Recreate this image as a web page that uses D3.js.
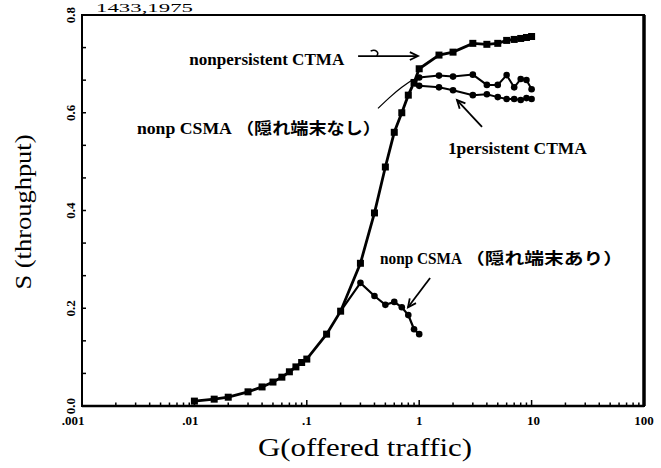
<!DOCTYPE html>
<html><head><meta charset="utf-8">
<script src="https://cdn.jsdelivr.net/npm/d3@7"></script>
<style>body{margin:0;background:#fff}</style>
</head><body><svg id="c" width="661" height="468"></svg>
<script>
// ---- data ----
const gMain = [0.01,0.015,0.02,0.03,0.04,0.05,0.06,0.07,0.08,0.09,0.1,0.15,0.2,0.3,0.4,0.5,0.6,0.7,0.8,0.9,1.0];
const sMain = [0.01,0.014,0.018,0.029,0.039,0.049,0.059,0.07,0.08,0.089,0.096,0.147,0.194,0.292,0.395,0.489,0.56,0.60,0.636,0.662,0.69];
const gNonpCTMA = [1.0,1.5,2,3,4,5,6,7,8,9,10];
const sNonpCTMA = [0.69,0.718,0.724,0.742,0.740,0.742,0.748,0.750,0.752,0.754,0.756];
const gUpper = [1.0,1.5,2,3,4,5,6,7,8,9,10];
const sUpper = [0.672,0.676,0.674,0.678,0.657,0.657,0.677,0.652,0.669,0.667,0.648];
const g1pCTMA = [1.0,1.5,2,3,4,5,6,7,8,9,10];
const s1pCTMA = [0.655,0.652,0.646,0.636,0.638,0.632,0.628,0.628,0.626,0.630,0.628];
const gHidden = [0.2,0.3,0.4,0.5,0.6,0.7,0.8,0.9,1.0];
const sHidden = [0.194,0.252,0.225,0.207,0.213,0.202,0.186,0.157,0.147];
const gArc = [0.43,0.55,0.7,0.88];
const sArc = [0.609,0.632,0.652,0.668];
const xTickValues = [0.001,0.01,0.1,1,10,100];
const xTickLabels = [".001",".01",".1","1","10","100"];
const yTickValues = [0,0.2,0.4,0.6,0.8];
const yTickLabels = ["0.0","0.2","0.4","0.6","0.8"];

const svg = d3.select("#c");
const x = d3.scaleLog().domain([0.001,100]).range([82,644]);
const y = d3.scaleLinear().domain([0,0.8]).range([406,15]);
const serif = "'Liberation Serif','Times New Roman',serif";
const cjk = "'Noto Sans CJK JP',sans-serif";

// top partial text
svg.append("text").attr("x",96).attr("y",12).attr("font-family",serif).attr("font-size",12)
  .attr("textLength",97).attr("lengthAdjust","spacingAndGlyphs").text("1433,1975");

// ticks
const minorX = x.ticks().filter(v => !xTickValues.some(t => Math.abs(t - v) < 1e-9));
svg.append("g").selectAll("line").data(minorX).join("line")
  .attr("x1",d=>x(d)).attr("x2",d=>x(d)).attr("y1",406).attr("y2",402.5)
  .attr("stroke","#000").attr("stroke-width",1.5);
svg.append("g").selectAll("line").data(xTickValues).join("line")
  .attr("x1",d=>x(d)).attr("x2",d=>x(d)).attr("y1",406).attr("y2",400)
  .attr("stroke","#000").attr("stroke-width",1.5);
const minorY = d3.range(0,0.8001,0.2/3);
svg.append("g").selectAll("line").data(minorY).join("line")
  .attr("x1",82).attr("x2",86).attr("y1",d=>y(d)).attr("y2",d=>y(d))
  .attr("stroke","#000").attr("stroke-width",1.5);

// frame
svg.append("rect").attr("x",x(0.001)).attr("y",y(0.8)).attr("width",x(100)-x(0.001)).attr("height",y(0)-y(0.8))
  .attr("fill","none").attr("stroke","#000").attr("stroke-width",2);
svg.append("line").attr("x1",x(100)).attr("x2",x(100)).attr("y1",y(0.8)).attr("y2",y(0)).attr("stroke","#000").attr("stroke-width",3.5);
svg.append("line").attr("x1",x(0.001)).attr("x2",x(100)).attr("y1",y(0)).attr("y2",y(0)).attr("stroke","#000").attr("stroke-width",2.5);

// tick labels
const xOff = [-9,-4,0,0,2,0];
svg.append("g").selectAll("text").data(xTickValues).join("text")
  .attr("x",(d,i)=>x(d)+xOff[i]).attr("y",425).attr("text-anchor","middle")
  .attr("font-family",serif).attr("font-weight","bold").attr("font-size",13)
  .text((d,i)=>xTickLabels[i]);
svg.append("g").selectAll("text").data(yTickValues).join("text")
  .attr("transform",d=>`translate(75,${y(d)}) rotate(-90)`).attr("text-anchor","middle")
  .attr("font-family",serif).attr("font-weight","bold").attr("font-size",13)
  .text((d,i)=>yTickLabels[i]);

// axis titles
svg.append("text").attr("x",365).attr("y",456).attr("text-anchor","middle")
  .attr("font-family",serif).attr("font-size",26).attr("textLength",214).attr("lengthAdjust","spacingAndGlyphs")
  .text("G(offered traffic)");
svg.append("text").attr("transform","translate(31,212) rotate(-90)").attr("text-anchor","middle")
  .attr("font-family",serif).attr("font-size",24).attr("textLength",155).attr("lengthAdjust","spacingAndGlyphs")
  .text("S (throughput)");

// series
const line = d3.line().x(d=>x(d[0])).y(d=>y(d[1]));
const zip = (a,b)=>a.map((v,i)=>[v,b[i]]);
const main = zip(gMain,sMain).concat(zip(gNonpCTMA,sNonpCTMA).slice(1));
const upper = [[0.9,0.662]].concat(zip(gUpper,sUpper));
const lower = [[0.9,0.655]].concat(zip(g1pCTMA,s1pCTMA));
const hidden = zip(gHidden,sHidden);
const arc = zip(gArc,sArc);

svg.append("path").attr("d",d3.line().x(d=>x(d[0])).y(d=>y(d[1])).curve(d3.curveNatural)(arc))
  .attr("fill","none").attr("stroke","#000").attr("stroke-width",1.3);
[[upper,2],[lower,2],[hidden,2.2],[main,2.8]].forEach(([d,w])=>{
  svg.append("path").attr("d",line(d)).attr("fill","none").attr("stroke","#000").attr("stroke-width",w);
});
svg.append("g").selectAll("rect").data(main).join("rect")
  .attr("x",d=>x(d[0])-3.5).attr("y",d=>y(d[1])-3.5).attr("width",7).attr("height",7).attr("fill","#000");
[upper.slice(1),lower.slice(1),hidden.slice(1)].forEach(d=>{
  svg.append("g").selectAll("circle").data(d).join("circle")
    .attr("cx",p=>x(p[0])).attr("cy",p=>y(p[1])).attr("r",3.3).attr("fill","#000");
});

// annotations (placed in data coordinates)
function label(G,S,latin,latinLen,jp,jpGap,jpLen){
  const x0 = x(G);
  const t = svg.append("text").attr("x",x0).attr("y",y(S)).attr("font-weight","bold");
  t.append("tspan").attr("font-family",serif).attr("font-size",17)
    .attr("textLength",latinLen).attr("lengthAdjust","spacingAndGlyphs").text(latin);
  if(jp) t.append("tspan").attr("x",x0+latinLen+jpGap).attr("font-family",cjk).attr("font-size",16)
    .attr("textLength",jpLen).attr("lengthAdjust","spacingAndGlyphs").text(jp);
}
label(0.009,0.697,"nonpersistent CTMA",155);
label(0.00308,0.556,"nonp CSMA",95,"（隠れ端末なし）",4,145);
label(1.80,0.515,"1persistent CTMA",139);
label(0.448,0.290,"nonp CSMA",82,"（隠れ端末あり）",3,158);

function arrow(G1,S1,G2,S2){
  const x1=x(G1),y1=y(S1),x2=x(G2),y2=y(S2);
  svg.append("line").attr("x1",x1).attr("y1",y1).attr("x2",x2).attr("y2",y2).attr("stroke","#000").attr("stroke-width",1.8);
  const a=Math.atan2(y2-y1,x2-x1), L=9, w=0.45;
  svg.append("path").attr("d",`M${x2-L*Math.cos(a-w)},${y2-L*Math.sin(a-w)} L${x2},${y2} L${x2-L*Math.cos(a+w)},${y2-L*Math.sin(a+w)}`)
    .attr("fill","none").attr("stroke","#000").attr("stroke-width",1.8);
}
arrow(0.286,0.716,0.975,0.716);
arrow(3.62,0.571,2.17,0.626);
arrow(1.25,0.262,0.795,0.202);
// small hook on the CTMA arrow
const hx = x(0.37), hy = y(0.716);
svg.append("path").attr("d",`M${hx},${hy-5} C${hx+5},${hy-7} ${hx+9},${hy-4} ${hx+6},${hy}`)
  .attr("fill","none").attr("stroke","#000").attr("stroke-width",1.5);
</script></body></html>
